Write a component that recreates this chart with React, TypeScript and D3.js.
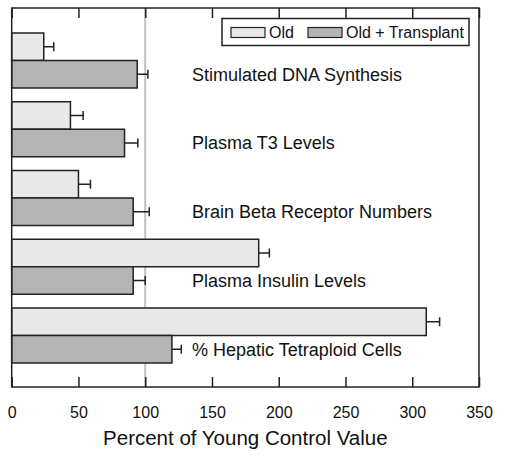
import { useRef, useEffect } from "react";
import * as d3 from "d3";

const categories = [
  "Stimulated DNA Synthesis",
  "Plasma T3 Levels",
  "Brain Beta Receptor Numbers",
  "Plasma Insulin Levels",
  "% Hepatic Tetraploid Cells",
];
const series = ["Old", "Old + Transplant"];
const oldValues = [24, 44, 50, 185, 310.5];
const oldErrors = [7.5, 9.5, 9, 8, 10];
const transplantValues = [94, 84.5, 91, 91, 120];
const transplantErrors = [8, 10, 12, 9, 7];
const xTicks = [0, 50, 100, 150, 200, 250, 300, 350];
const fills = ["#e8e8e8", "#b4b4b4"];

const W = 505;
const H = 456;
const FONT = "'Liberation Sans', Arial, sans-serif";

export default function App() {
  const svgRef = useRef<SVGSVGElement>(null);

  useEffect(() => {
    if (!svgRef.current) return;
    const svg = d3.select(svgRef.current);
    svg.selectAll("*").remove();

    const m = { top: 8, right: 26, bottom: 69, left: 11.7 };
    const iW = W - m.left - m.right;
    const iH = H - m.top - m.bottom;
    const g = svg.append("g").attr("transform", `translate(${m.left},${m.top})`);

    const x = d3.scaleLinear().domain([0, 350]).range([0, iW]);
    const y = d3.scaleBand<string>().domain(categories).range([25, iH - 24]).paddingInner(0.2);
    const sub = d3.scaleBand<string>().domain(series).range([0, y.bandwidth()]);

    // reference line at 100%
    g.append("line")
      .attr("x1", x(100)).attr("x2", x(100)).attr("y1", 0).attr("y2", iH)
      .attr("stroke", "#c0c0c0").attr("stroke-width", 2);

    const rows = categories.map((c, i) => ({
      c,
      bars: [
        { s: series[0], v: oldValues[i], e: oldErrors[i], f: fills[0] },
        { s: series[1], v: transplantValues[i], e: transplantErrors[i], f: fills[1] },
      ],
    }));

    const grp = g.selectAll("g.grp").data(rows).enter().append("g")
      .attr("transform", d => `translate(0,${y(d.c)})`);

    const bar = grp.selectAll("g.bar").data(d => d.bars).enter().append("g");
    bar.append("line")
      .attr("x1", d => x(d.v)).attr("x2", d => x(d.v + d.e))
      .attr("y1", d => sub(d.s)! + sub.bandwidth() / 2).attr("y2", d => sub(d.s)! + sub.bandwidth() / 2)
      .attr("stroke", "#222").attr("stroke-width", 1.5);
    bar.append("line")
      .attr("x1", d => x(d.v + d.e)).attr("x2", d => x(d.v + d.e))
      .attr("y1", d => sub(d.s)! + sub.bandwidth() / 2 - 4.5).attr("y2", d => sub(d.s)! + sub.bandwidth() / 2 + 4.5)
      .attr("stroke", "#222").attr("stroke-width", 1.5);
    bar.append("rect")
      .attr("x", x(0)).attr("y", d => sub(d.s)!)
      .attr("width", d => x(d.v) - x(0)).attr("height", sub.bandwidth())
      .attr("fill", d => d.f).attr("stroke", "#222").attr("stroke-width", 1.5);

    grp.append("text")
      .attr("x", x(135)).attr("y", sub(series[1])! + sub.bandwidth() / 2)
      .attr("dy", "0.35em").attr("font-family", FONT).attr("font-size", 18).attr("fill", "#111")
      .text(d => d.c);

    // frame
    g.append("rect").attr("width", iW).attr("height", iH)
      .attr("fill", "none").attr("stroke", "#222").attr("stroke-width", 1.5);

    // ticks (inward on top and bottom)
    g.append("g").attr("transform", `translate(0,${iH})`)
      .call(d3.axisBottom(x).tickValues(xTicks).tickSize(-10).tickPadding(20).tickFormat(d3.format("d")))
      .call(a => a.select(".domain").remove())
      .call(a => a.selectAll("line").attr("stroke", "#222").attr("stroke-width", 1.5))
      .call(a => a.selectAll("text").attr("font-family", FONT).attr("font-size", 16).attr("fill", "#111"));
    g.append("g")
      .call(d3.axisTop(x).tickValues(xTicks).tickSize(-10).tickFormat(() => ""))
      .call(a => a.select(".domain").remove())
      .call(a => a.selectAll("line").attr("stroke", "#222").attr("stroke-width", 1.5));

    g.append("text")
      .attr("x", iW / 2).attr("y", iH + 58)
      .attr("text-anchor", "middle").attr("font-family", FONT).attr("font-size", 20.5).attr("fill", "#111")
      .text("Percent of Young Control Value");

    // legend
    const lg = svg.append("g").attr("transform", "translate(222,18.5)");
    lg.append("rect").attr("width", 247).attr("height", 27)
      .attr("fill", "#fff").attr("stroke", "#222").attr("stroke-width", 1.5);
    const items = [
      { s: series[0], f: fills[0], x: 9 },
      { s: series[1], f: fills[1], x: 86 },
    ];
    const li = lg.selectAll("g.li").data(items).enter().append("g")
      .attr("transform", d => `translate(${d.x},9)`);
    li.append("rect").attr("width", 34).attr("height", 10)
      .attr("fill", d => d.f).attr("stroke", "#222").attr("stroke-width", 1.2);
    li.append("text").attr("x", 38).attr("y", 5).attr("dy", "0.35em")
      .attr("font-family", FONT).attr("font-size", 16).attr("fill", "#111")
      .text(d => d.s);
  }, []);

  return (
    <div style={{ position: "absolute", left: 0, top: 0, width: W, height: H, background: "#fff" }}>
      <svg ref={svgRef} width={W} height={H} />
    </div>
  );
}
